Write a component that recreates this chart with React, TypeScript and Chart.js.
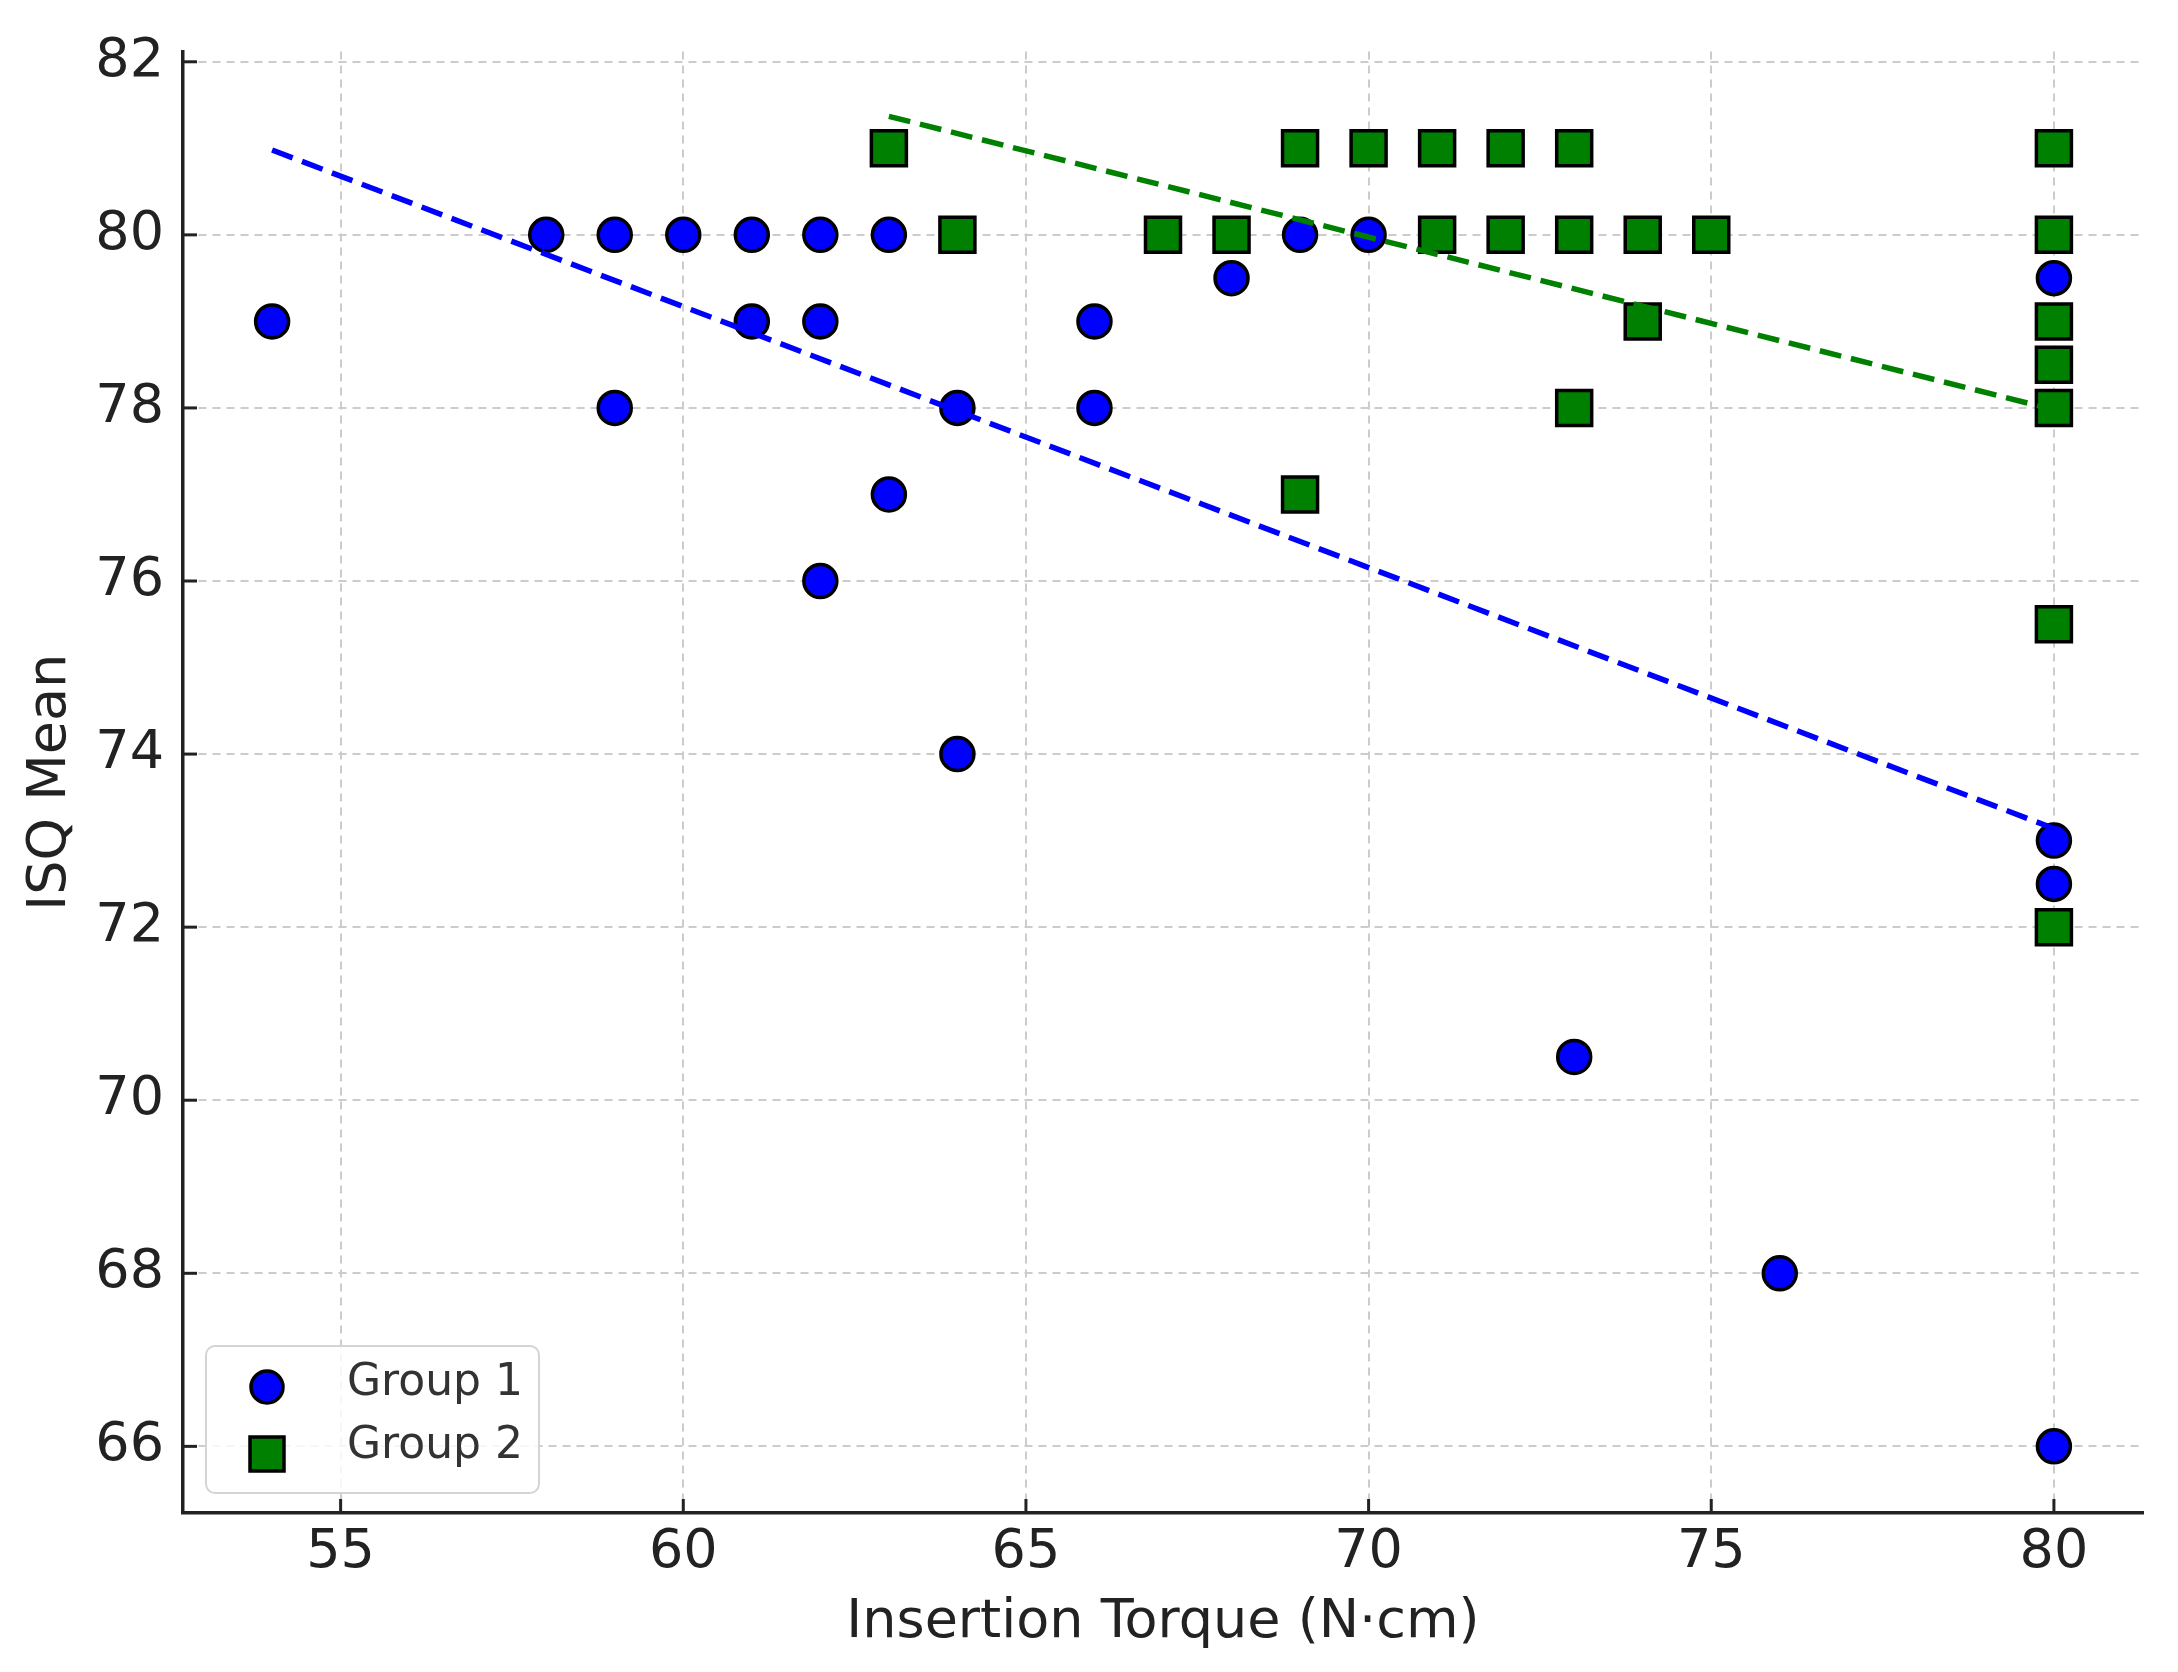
import React, { useEffect, useRef } from "react";
import { Chart, registerables } from "chart.js";

Chart.register(...registerables);

// ---- data ----
const seriesLabels = ["Group 1", "Group 2"];

const group1X = [54, 58, 59, 60, 61, 62, 63, 59, 61, 62, 62, 63, 64, 64, 66, 66, 68, 69, 70, 73, 76, 80, 80, 80, 80];
const group1Y = [79, 80, 80, 80, 80, 80, 80, 78, 79, 79, 76, 77, 78, 74, 79, 78, 79.5, 80, 80, 70.5, 68, 79.5, 73, 72.5, 66];

const group2X = [63, 64, 67, 68, 69, 70, 71, 72, 73, 71, 72, 73, 74, 75, 74, 73, 69, 80, 80, 80, 80, 80, 80, 80];
const group2Y = [81, 80, 80, 80, 81, 81, 81, 81, 81, 80, 80, 80, 80, 80, 79, 78, 77, 81, 80, 79, 78.5, 78, 75.5, 72];

// trend lines (end points)
const trend1X = [54, 80];
const trend1Y = [80.98, 73.14];
const trend2X = [63, 80];
const trend2Y = [81.37, 77.98];

const xTicks = [55, 60, 65, 70, 75, 80];
const yTicks = [66, 68, 70, 72, 74, 76, 78, 80, 82];
const xRange = [52.7, 81.3];
const yRange = [65.23, 82.12];

const xTitle = "Insertion Torque (N·cm)";
const yTitle = "ISQ Mean";

const FONT = "'DejaVu Sans', sans-serif";
const BLUE = "#0000ff";
const GREEN = "#008000";

const toPoints = (xs: number[], ys: number[]) => xs.map((x, i) => ({ x, y: ys[i] }));

const overlayPlugin = {
  id: "overlay",
  afterDraw(chart: any) {
    const ctx: CanvasRenderingContext2D = chart.ctx;
    const { left, bottom } = chart.chartArea;
    const xs = chart.scales.x;
    const ys = chart.scales.y;
    ctx.save();
    // inward tick marks
    ctx.strokeStyle = "#222";
    ctx.lineWidth = 3;
    ctx.setLineDash([]);
    xTicks.forEach((v) => {
      const px = xs.getPixelForValue(v);
      ctx.beginPath();
      ctx.moveTo(px, bottom);
      ctx.lineTo(px, bottom - 14);
      ctx.stroke();
    });
    yTicks.forEach((v) => {
      const py = ys.getPixelForValue(v);
      ctx.beginPath();
      ctx.moveTo(left, py);
      ctx.lineTo(left + 14, py);
      ctx.stroke();
    });

    // legend box
    const bx = left + 23;
    const by = bottom - 167;
    const bw = 333;
    const bh = 147;
    ctx.beginPath();
    (ctx as any).roundRect(bx, by, bw, bh, 9);
    ctx.fillStyle = "rgba(255,255,255,0.82)";
    ctx.fill();
    ctx.strokeStyle = "#d4d4d4";
    ctx.lineWidth = 2;
    ctx.stroke();

    const mx = bx + 61;
    const rows = [by + 41, by + 108];
    // circle
    ctx.beginPath();
    ctx.arc(mx, rows[0], 16, 0, Math.PI * 2);
    ctx.fillStyle = BLUE;
    ctx.fill();
    ctx.strokeStyle = "#000";
    ctx.lineWidth = 3.5;
    ctx.stroke();
    // square
    ctx.beginPath();
    ctx.rect(mx - 17, rows[1] - 17, 34, 34);
    ctx.fillStyle = GREEN;
    ctx.fill();
    ctx.stroke();

    ctx.fillStyle = "#333";
    ctx.font = `44px ${FONT}`;
    ctx.textBaseline = "middle";
    ctx.textAlign = "left";
    ctx.fillText(seriesLabels[0], bx + 141, rows[0] - 3);
    ctx.fillText(seriesLabels[1], bx + 141, rows[1] - 7);
    ctx.restore();
  },
};

export default function App() {
  const ref = useRef<HTMLCanvasElement | null>(null);

  useEffect(() => {
    document.body.style.margin = "0";
    if (!ref.current) return;
    const chart = new Chart(ref.current, {
      type: "scatter",
      data: {
        datasets: [
          {
            label: seriesLabels[0],
            data: toPoints(group1X, group1Y),
            pointStyle: "circle",
            pointRadius: 16.5,
            pointHoverRadius: 16.5,
            backgroundColor: BLUE,
            borderColor: "#000",
            borderWidth: 3.5,
            order: 2,
          },
          {
            label: seriesLabels[1],
            data: toPoints(group2X, group2Y),
            pointStyle: "rect",
            pointRadius: 24.75,
            pointHoverRadius: 24.75,
            backgroundColor: GREEN,
            borderColor: "#000",
            borderWidth: 3.5,
            order: 2,
          },
          {
            label: "trend1",
            data: toPoints(trend1X, trend1Y),
            showLine: true,
            pointRadius: 0,
            borderColor: BLUE,
            borderWidth: 5.5,
            borderDash: [22, 10],
            order: 0,
          },
          {
            label: "trend2",
            data: toPoints(trend2X, trend2Y),
            showLine: true,
            pointRadius: 0,
            borderColor: GREEN,
            borderWidth: 5.5,
            borderDash: [22, 10],
            order: 0,
          },
        ],
      },
      options: {
        animation: false,
        responsive: true,
        maintainAspectRatio: false,
        events: [],
        layout: { padding: { top: 50, right: 35, left: 0, bottom: 0 } },
        plugins: { legend: { display: false }, tooltip: { enabled: false } },
        scales: {
          x: {
            type: "linear",
            min: xRange[0],
            max: xRange[1],
            z: 1,
            afterBuildTicks: (scale: any) => {
              scale.ticks = xTicks.map((value) => ({ value }));
            },
            afterFit: (scale: any) => {
              scale.height = 159;
            },
            grid: { color: "#cccccc", lineWidth: 2, drawTicks: false },
            border: { display: true, color: "#222", width: 3.5, dash: [8, 6] },
            ticks: {
              color: "#222",
              font: { family: FONT, size: 54 },
              padding: 8,
              maxRotation: 0,
              callback: (v: any) => String(v),
            },
            title: {
              display: true,
              text: xTitle,
              color: "#222",
              font: { family: FONT, size: 54 },
              padding: { top: 0, bottom: 17 },
            },
          },
          y: {
            type: "linear",
            min: yRange[0],
            max: yRange[1],
            z: 1,
            afterBuildTicks: (scale: any) => {
              scale.ticks = yTicks.map((value) => ({ value }));
            },
            afterFit: (scale: any) => {
              scale.width = 183;
            },
            grid: { color: "#cccccc", lineWidth: 2, drawTicks: false },
            border: { display: true, color: "#222", width: 3.5, dash: [8, 6] },
            ticks: {
              color: "#222",
              font: { family: FONT, size: 54 },
              padding: 19,
              callback: (v: any) => String(v),
            },
            title: {
              display: true,
              text: yTitle,
              color: "#222",
              font: { family: FONT, size: 54 },
              padding: { top: 19, bottom: 0 },
            },
          },
        },
      },
      plugins: [overlayPlugin],
    } as any);
    return () => chart.destroy();
  }, []);

  return (
    <div style={{ width: 2178, height: 1672, position: "relative", background: "#fff" }}>
      <canvas ref={ref} />
    </div>
  );
}
